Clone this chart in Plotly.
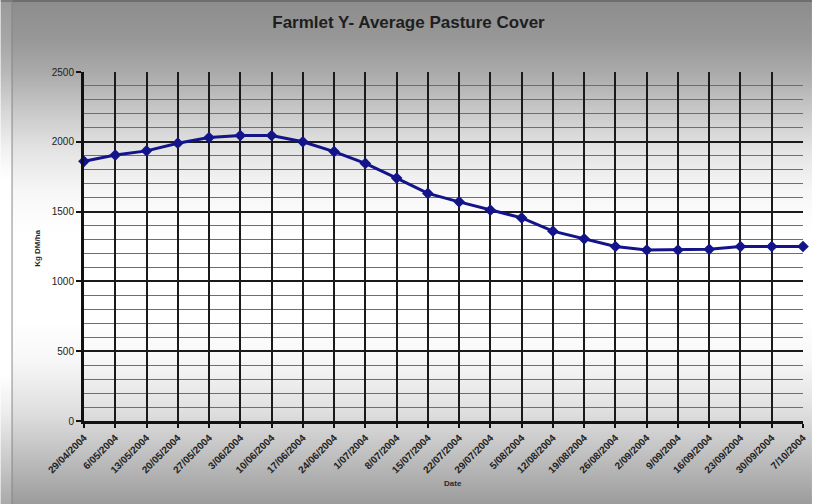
import base64
import struct
import zlib

import plotly.graph_objects as go

# Weekly pasture cover readings, Farmlet Y
dates = [
    "29/04/2004", "6/05/2004", "13/05/2004", "20/05/2004", "27/05/2004",
    "3/06/2004", "10/06/2004", "17/06/2004", "24/06/2004", "1/07/2004",
    "8/07/2004", "15/07/2004", "22/07/2004", "29/07/2004", "5/08/2004",
    "12/08/2004", "19/08/2004", "26/08/2004", "2/09/2004", "9/09/2004",
    "16/09/2004", "23/09/2004", "30/09/2004", "7/10/2004",
]
cover = [
    1860, 1905, 1935, 1990, 2030, 2045, 2045, 2000, 1930, 1845,
    1740, 1630, 1570, 1510, 1455, 1360, 1305, 1250, 1225, 1225,
    1230, 1250, 1250, 1250,
]
y_ticks = [0, 500, 1000, 1500, 2000, 2500]

W, H = 817, 504
ML, MR, MT, MB = 84, 9, 72, 83
PW, PH = W - ML - MR, H - MT - MB


def px_to_paper_x(px):
    return (px - ML) / PW


def px_to_paper_y(py):
    return (H - MB - py) / PH


# vertical grey -> white -> grey background gradient (pixel row, grey level)
stops = [(0, 140), (40, 152), (72, 170), (110, 200), (150, 228), (190, 246),
         (225, 254), (240, 255), (320, 255), (360, 247), (410, 224),
         (460, 188), (504, 155)]


def grey_at(py):
    for (y0, g0), (y1, g1) in zip(stops, stops[1:]):
        if y0 <= py <= y1:
            t = (py - y0) / (y1 - y0)
            return g0 + (g1 - g0) * t
    return stops[-1][1]


def background_png():
    rows = []
    for py in range(H):
        g = int(round(grey_at(py)))
        if py < 2:
            g = 110
        strip = min(255, g + 14)
        row = bytearray([0])
        for px in range(W):
            if px < 11:
                v = strip
            elif px == 11:
                v = 130
            else:
                v = g
            row += bytes((v, v, v))
        rows.append(bytes(row))
    raw = b"".join(rows)

    def chunk(tag, data):
        c = struct.pack(">I", len(data)) + tag + data
        return c + struct.pack(">I", zlib.crc32(tag + data) & 0xFFFFFFFF)

    png = b"\x89PNG\r\n\x1a\n"
    png += chunk(b"IHDR", struct.pack(">IIBBBBB", W, H, 8, 2, 0, 0, 0))
    png += chunk(b"IDAT", zlib.compress(raw, 9))
    png += chunk(b"IEND", b"")
    return "data:image/png;base64," + base64.b64encode(png).decode()


fig = go.Figure()
fig.add_trace(go.Scatter(
    x=list(range(len(dates))), y=cover,
    mode="lines+markers",
    line=dict(color="#14148a", width=3),
    marker=dict(symbol="diamond", size=9, color="#14148a"),
    cliponaxis=False,
    showlegend=False,
))

font_family = "Liberation Sans, Arial, sans-serif"

fig.update_layout(
    width=W, height=H,
    margin=dict(l=ML, r=MR, t=MT, b=MB, pad=0),
    paper_bgcolor="rgba(0,0,0,0)",
    plot_bgcolor="rgba(0,0,0,0)",
    images=[dict(
        source=background_png(), xref="paper", yref="paper",
        x=px_to_paper_x(0), y=px_to_paper_y(0),
        sizex=W / PW, sizey=H / PH,
        xanchor="left", yanchor="top", sizing="stretch", layer="below",
    )],
    font=dict(family=font_family, color="#1a1a1a"),
    title=dict(
        text="<b>Farmlet Y- Average Pasture Cover</b>",
        x=0.5, xref="container", xanchor="center",
        y=1 - 22 / H, yref="container", yanchor="middle",
        font=dict(size=17, color="#1e1e1e", family=font_family),
    ),
    xaxis=dict(
        range=[0, len(dates) - 1],
        tickmode="array",
        tickvals=list(range(len(dates))),
        ticktext=["<b>" + d + "</b>" for d in dates],
        tickangle=-45,
        tickfont=dict(size=10, color="#222"),
        ticks="outside", ticklen=4, tickcolor="#111", tickwidth=2,
        showgrid=True, gridcolor="#1a1a1a", gridwidth=2,
        showline=True, linecolor="#111", linewidth=3,
        zeroline=False,
    ),
    yaxis=dict(
        range=[0, 2500],
        tickvals=y_ticks,
        tickfont=dict(size=10, color="#222"),
        ticks="outside", ticklen=5, tickcolor="#111", tickwidth=2,
        showgrid=True, gridcolor="#1a1a1a", gridwidth=2,
        minor=dict(dtick=100, showgrid=True, gridcolor="#6e6e6e", gridwidth=1.1),
        showline=True, linecolor="#111", linewidth=3,
        zeroline=False,
    ),
    annotations=[
        dict(text="<b>Date</b>", xref="paper", yref="paper",
             x=px_to_paper_x(456), y=px_to_paper_y(490),
             showarrow=False, font=dict(size=8, color="#2a2a2a")),
        dict(text="<b>Kg DM/ha</b>", xref="paper", yref="paper",
             x=px_to_paper_x(30), y=px_to_paper_y(248), textangle=-90,
             showarrow=False, font=dict(size=8, color="#2a2a2a")),
    ],
)

fig.write_html("out.html")
